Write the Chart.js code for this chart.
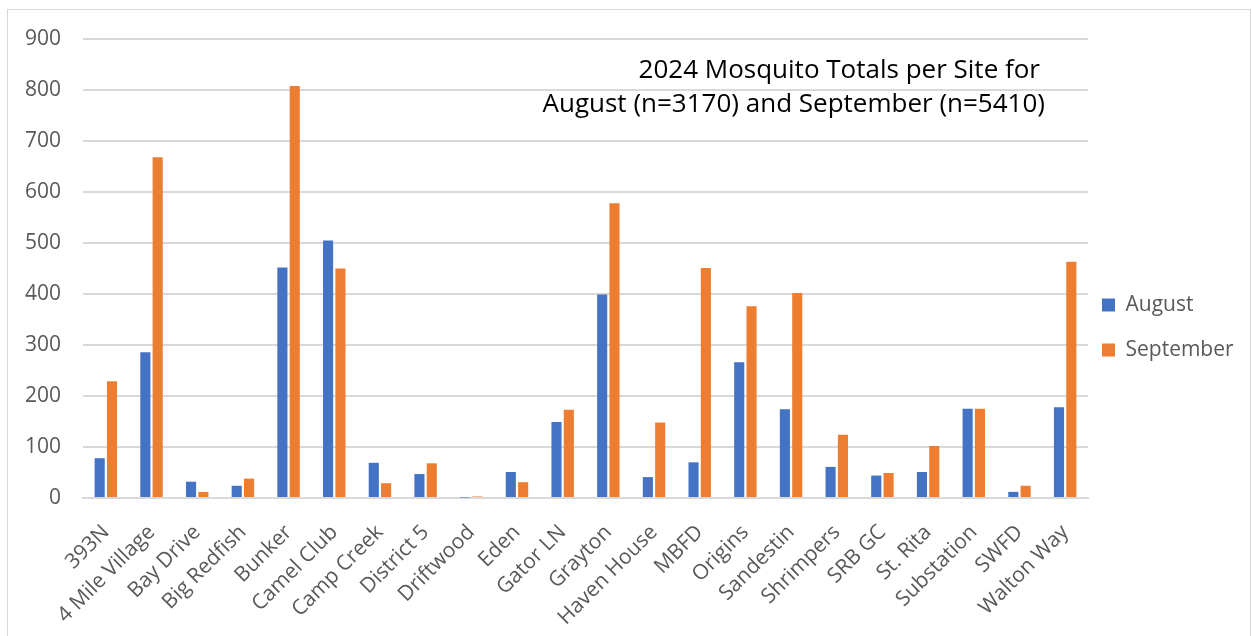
<!DOCTYPE html>
<html>
<head>
<meta charset="utf-8">
<script src="https://cdn.jsdelivr.net/npm/chart.js@4/dist/chart.umd.min.js"></script>
<style>
  body { margin: 0; background: #fff; }
  #wrap { position: absolute; left: 7px; top: 9px; width: 1242px; height: 640px; border: 1px solid #d9d9d9; }
</style>
</head>
<body>
<div id="wrap"><canvas id="mosquitoChart" width="1242" height="640"></canvas></div>
<script>
// site names
const sites = ['393N', '4 Mile Village', 'Bay Drive', 'Big Redfish', 'Bunker', 'Camel Club', 'Camp Creek',
  'District 5', 'Driftwood', 'Eden', 'Gator LN', 'Grayton', 'Haven House', 'MBFD', 'Origins', 'Sandestin',
  'Shrimpers', 'SRB GC', 'St. Rita', 'Substation', 'SWFD', 'Walton Way'];

// totals per month
const august = [78, 286, 32, 24, 452, 505, 69, 47, 1, 51, 149, 399, 41, 70, 266, 174, 61, 44, 51, 175, 12, 178];
const september = [229, 668, 12, 38, 808, 450, 29, 68, 3, 31, 173, 578, 148, 451, 376, 402, 124, 49, 102, 175, 24, 463];

const titleLines = ['2024 Mosquito Totals per Site for', 'August (n=3170) and September (n=5410)'];

Chart.defaults.font.family = '"Open Sans", sans-serif';
Chart.defaults.color = '#595959';

// draws the title inside the plot, top right
const titleInside = {
  id: 'titleInside',
  afterDraw(chart) {
    const c = chart.ctx;
    c.save();
    c.font = '26px "Open Sans", sans-serif';
    c.fillStyle = '#000';
    c.textAlign = 'right';
    c.textBaseline = 'alphabetic';
    c.fillText(titleLines[0], 1032, 68);
    c.fillText(titleLines[1], 1037, 102);
    c.restore();
  }
};

// nudge the legend block a bit, like the excel one
const legendNudge = {
  id: 'legendNudge',
  beforeDraw(chart) {
    const lg = chart.legend;
    lg.left -= 10;
    lg.right -= 10;
    lg.top -= 17;
    lg.bottom -= 17;
  }
};

var ctx = document.getElementById('mosquitoChart').getContext('2d');
var chart = new Chart(ctx, {
  type: 'bar',
  data: {
    labels: sites,
    datasets: [{
      label: 'August',
      backgroundColor: '#4472C4',
      data: august
    }, {
      label: 'September',
      backgroundColor: '#ED7D31',
      data: september
    }]
  },
  options: {
    responsive: false,
    animation: false,
    devicePixelRatio: 1,
    datasets: {
      bar: { categoryPercentage: 0.54, barPercentage: 0.82 }
    },
    layout: {
      padding: { top: 29, left: 0, right: 0, bottom: 0 }
    },
    scales: {
      x: {
        grid: { display: false },
        border: { color: '#d9d9d9', width: 2 },
        ticks: { font: { size: 21 }, maxRotation: 45, minRotation: 45, autoSkip: false, padding: 14 },
        afterFit(s) {
          s.height = 152;
          s.paddingLeft = 0;
          s.paddingRight = 0;
        }
      },
      y: {
        min: 0,
        max: 900,
        grid: { color: '#d9d9d9', lineWidth: 2, drawTicks: false },
        border: { display: false },
        ticks: { stepSize: 100, font: { size: 21 }, padding: 22 },
        afterFit(s) {
          s.width = 75;
          s.paddingTop = 0;
          s.paddingBottom = 0;
        }
      }
    },
    plugins: {
      legend: {
        position: 'right',
        maxWidth: 162,
        labels: { boxWidth: 13, boxHeight: 13, padding: 24, font: { size: 21 }, color: '#595959' }
      },
      tooltip: { enabled: false }
    }
  },
  plugins: [titleInside, legendNudge]
});
</script>
</body>
</html>
